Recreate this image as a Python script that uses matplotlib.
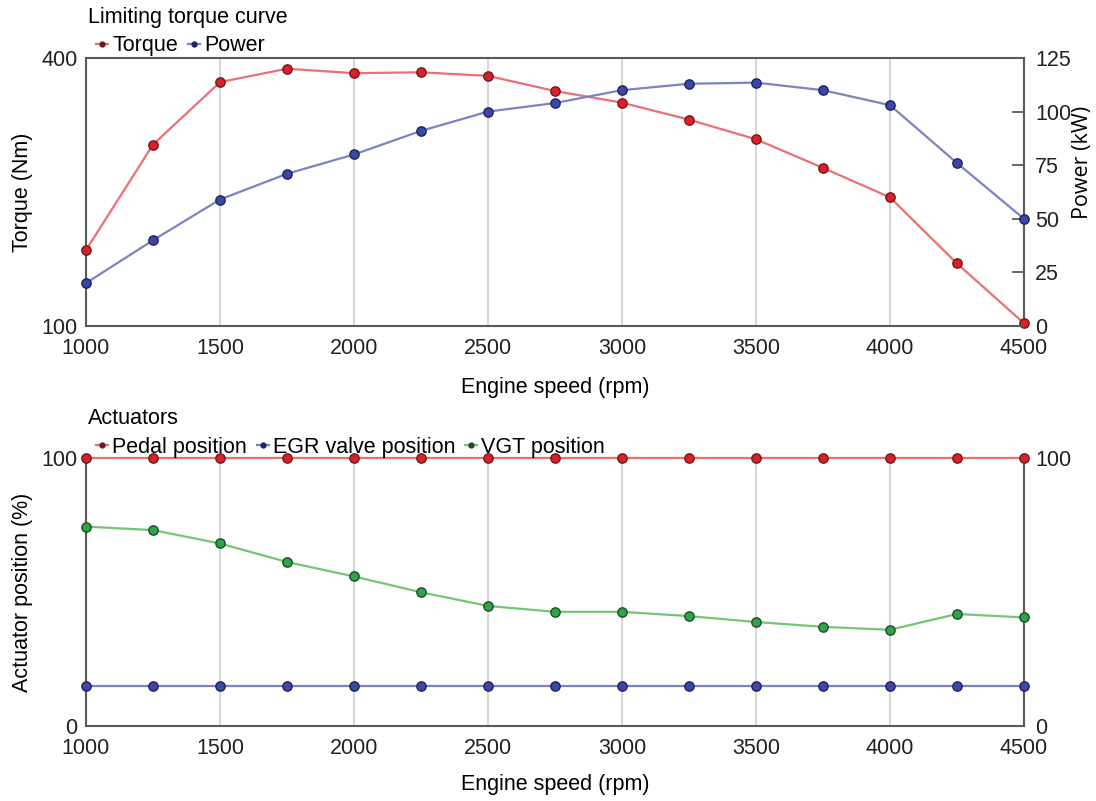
import numpy as np
import matplotlib.pyplot as plt
from matplotlib.lines import Line2D
from matplotlib.legend_handler import HandlerLine2D

plt.rcParams['font.family'] = ['Liberation Sans', 'DejaVu Sans']
plt.rcParams['font.size'] = 15.5

# engine speed grid (rpm)
rpm = [1000, 1250, 1500, 1750, 2000, 2250, 2500, 2750,
       3000, 3250, 3500, 3750, 4000, 4250, 4500]

# limiting torque curve
torque = [185, 303, 373, 388, 383, 384, 380, 363,
          350, 331, 309, 277, 244, 170, 103]        # Nm
power = [20, 40, 59, 71, 80, 91, 100, 104,
         110, 113, 113.5, 110, 103, 76, 50]         # kW

# actuator positions (%)
pedal = [100] * 15
egr = [15] * 15
vgt = [74.4, 73.1, 68.1, 61.2, 55.8, 49.9, 44.8, 42.6,
       42.6, 41.0, 38.8, 37.0, 35.9, 41.8, 40.5]

red_line, red_face, red_edge = '#ec6f74', '#dd1f2b', '#6e1a1a'
blue_line, blue_face, blue_edge = '#7d82c4', '#3b47a3', '#1e2460'
green_line, green_face, green_edge = '#74c576', '#2fa24c', '#1c4f26'
spine_col = '#5a5a5a'
grid_col = '#d8d8d8'

W, H = 1096, 801
fig = plt.figure(figsize=(W / 100, H / 100), dpi=100)


class DotLeftHandler(HandlerLine2D):
    # short line with the marker sitting on its left end
    def get_xdata(self, legend, xdescent, ydescent, width, height, fontsize):
        xdata = np.array([-xdescent, -xdescent + width])
        return xdata, xdata[:1]


def px_axes(left, top, right, bottom):
    return fig.add_axes([left / W, 1 - bottom / H, (right - left) / W, (bottom - top) / H])


def series(ax, y, lc, fc, ec):
    ax.plot(rpm, y, color=lc, lw=1.6, marker='o', ms=6.7,
            mfc=fc, mec=ec, mew=1.0, clip_on=False, zorder=5)


def handle(lc, fc):
    return Line2D([], [], color=lc, lw=1.6, marker='o', ms=3.5, mfc=fc, mec=fc)


def legend(ax, handles, labels, y):
    ax.legend(handles, labels, loc='center left', bbox_to_anchor=(0.011, y),
              ncol=len(labels), frameon=False, borderpad=0, borderaxespad=0,
              handlelength=0.55, handletextpad=0.2, columnspacing=0.45,
              handler_map={Line2D: DotLeftHandler()})


def style(ax, top_spine=True):
    ax.set_xlim(1000, 4500)
    ax.set_xticks(range(1000, 4501, 500))
    ax.grid(axis='x', color=grid_col, lw=1.5)
    ax.set_axisbelow(True)
    for s in ['left', 'bottom', 'right']:
        ax.spines[s].set_color(spine_col)
        ax.spines[s].set_linewidth(1.5)
    ax.spines['top'].set_visible(top_spine)
    ax.spines['top'].set_color(spine_col)
    ax.spines['top'].set_linewidth(1.5)
    ax.tick_params(axis='x', length=0, pad=9, colors='#222222')
    ax.tick_params(axis='y', length=0, pad=6, colors='#222222')


# --- top: torque and power ---
ax1 = px_axes(86, 58, 1024, 326)
style(ax1)
ax1.set_ylim(100, 400)
ax1.set_yticks([100, 400])
series(ax1, torque, red_line, red_face, red_edge)
ax1.set_xlabel('Engine speed (rpm)')
ax1.xaxis.set_label_coords(0.5, -0.19)
ax1.set_ylabel('Torque (Nm)')
ax1.yaxis.set_label_coords(-0.056, 0.5)

ax1r = ax1.twinx()
ax1r.set_ylim(0, 125)
ax1r.set_yticks(range(0, 126, 25))
ax1r.tick_params(axis='y', direction='in', length=9, width=1.3,
                 color=spine_col, pad=8, labelcolor='#222222')
for s in ax1r.spines.values():
    s.set_visible(False)
series(ax1r, power, blue_line, blue_face, blue_edge)
ax1r.set_ylabel('Power (kW)', family=['Open Sans', 'DejaVu Sans'])
ax1r.yaxis.set_label_coords(1.051, 0.612)

legend(ax1, [handle(red_line, red_edge), handle(blue_line, blue_edge)],
       ['Torque', 'Power'], 1.045)
fig.text(88 / W, 1 - 18 / H, 'Limiting torque curve', va='center', ha='left')

# --- bottom: actuators ---
ax2 = px_axes(86, 458, 1024, 726)
style(ax2, top_spine=False)
ax2.set_ylim(0, 100)
ax2.set_yticks([0, 100])
series(ax2, pedal, red_line, red_face, red_edge)
series(ax2, egr, blue_line, blue_face, blue_edge)
series(ax2, vgt, green_line, green_face, green_edge)
ax2.set_xlabel('Engine speed (rpm)')
ax2.xaxis.set_label_coords(0.5, -0.18)
ax2.set_ylabel('Actuator position (%)')
ax2.yaxis.set_label_coords(-0.056, 0.5)

ax2r = ax2.twinx()
ax2r.set_ylim(0, 100)
ax2r.set_yticks([0, 100])
ax2r.tick_params(axis='y', length=0, pad=8, colors='#222222')
for s in ax2r.spines.values():
    s.set_visible(False)

legend(ax2, [handle(red_line, red_edge), handle(blue_line, blue_edge),
             handle(green_line, green_edge)],
       ['Pedal position', 'EGR valve position', 'VGT position'], 1.041)
fig.text(88 / W, 1 - 418 / H, 'Actuators', va='center', ha='left')

fig.savefig('out.png', dpi=100)
